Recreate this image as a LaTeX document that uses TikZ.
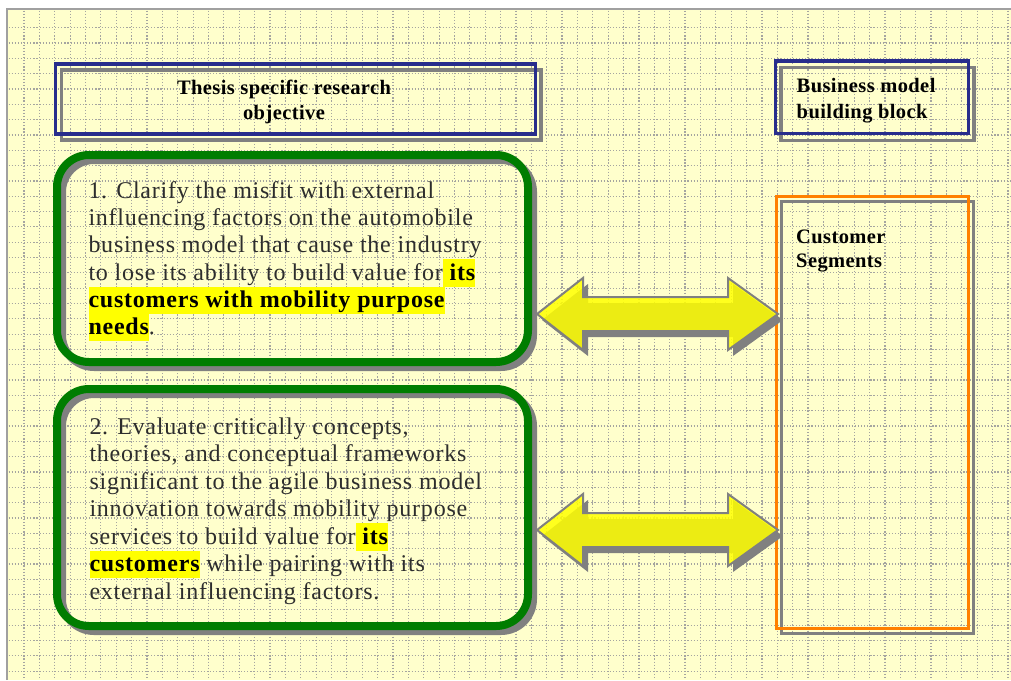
\documentclass[tikz,border=0pt]{standalone}
\usepackage{fontspec}
\setmainfont{Liberation Serif}
\newfontfamily\bodyfont[LetterSpace=3.2]{Liberation Serif}
\newfontfamily\headfont[LetterSpace=2]{Liberation Serif}
\usetikzlibrary{calc}

\definecolor{bgyellow}{RGB}{255,255,204}
\definecolor{gridgray}{RGB}{165,165,160}
\definecolor{framegray}{RGB}{160,160,160}
\definecolor{shadowgray}{RGB}{128,128,128}
\definecolor{boxgreen}{RGB}{0,125,0}
\definecolor{boxblue}{RGB}{40,45,140}
\definecolor{boxorange}{RGB}{255,128,0}
\definecolor{arrowyellow}{RGB}{255,255,0}
\definecolor{hlyellow}{RGB}{255,255,0}
\definecolor{bodygray}{RGB}{45,45,45}

% highlighted bold phrase
\newcommand\hl[1]{{\setlength{\fboxsep}{0pt}\colorbox{hlyellow}{\rule[-6.5pt]{0pt}{27.5pt}\color{black}\bfseries #1}}}

\pgfdeclarelayer{grid}
\pgfdeclarelayer{shadow}
\pgfsetlayers{grid,shadow,main}

\tikzset{
  gridline/.style={gridgray, line width=1.2pt, dash pattern=on 1.2pt off 1.9pt},
  greenbox/.style={draw=boxgreen, line width=8pt, rounded corners=32pt, outer sep=0pt, inner sep=0pt},
  greenshadow/.style={draw=shadowgray, line width=8pt, rounded corners=32pt},
  bluebox/.style={draw=boxblue, line width=3.3pt, outer sep=0pt, inner sep=0pt},
  orangebox/.style={draw=boxorange, line width=3.5pt, outer sep=0pt, inner sep=0pt},
  thinshadow/.style={draw=shadowgray, line width=3.3pt},
  bodytext/.style={font=\bodyfont\fontsize{24}{27.5}\selectfont, text=bodygray, anchor=base west, inner sep=0pt},
  headtext/.style={font=\headfont\bfseries\fontsize{20.5}{25}\selectfont, text=black, inner sep=0pt},
  arrowoutline/.style={insert path={(-120.5,0) -- (-74.5,-36) -- (-74.5,-17) -- (70.5,-17)
      -- (70.5,-36) -- (120.5,0) -- (70.5,36) -- (70.5,17) -- (-74.5,17) -- (-74.5,36) -- cycle}},
  dblarrow/.pic={
    \fill[shadowgray, shift={(5,6)}, arrowoutline];
    \filldraw[fill=arrowyellow, fill opacity=0.85, draw=shadowgray, line width=2pt, line join=miter, arrowoutline];
  }
}

\begin{document}
\begin{tikzpicture}[x=1pt, y=-1pt]
\useasboundingbox (0,0) rectangle (1011,680);

% dotted grid paper
\begin{pgfonlayer}{grid}
  \fill[white] (0,0) rectangle (1011,680);
  \fill[bgyellow] (7,9) rectangle (1011,680);
  \foreach \k in {0,...,64} \draw[gridline] ({24+15.374*\k},10.5) -- ({24+15.374*\k},680);
  \foreach \k in {0,...,42} \draw[gridline] (8.5,{27.7+15.32*\k}) -- (1011,{27.7+15.32*\k});
  \draw[framegray, line width=2.4pt] (7,680) -- (7,9.2) -- (1011,9.2);
\end{pgfonlayer}

% frames
\node[bluebox, minimum width=479.8pt, minimum height=70pt] (head1) at (295.6,99) {};
\node[bluebox, minimum width=193pt, minimum height=72.7pt] (head2) at (872,97.3) {};
\node[greenbox, minimum width=471pt, minimum height=207pt] (obj1) at (292.5,258.5) {};
\node[greenbox, minimum width=471pt, minimum height=237pt] (obj2) at (292.5,507.5) {};
\node[orangebox, minimum width=191.6pt, minimum height=432pt] (seg) at (872.5,412.7) {};

% offset shadows of the frames
\begin{pgfonlayer}{shadow}
  \draw[thinshadow] ([shift={(5.5,6)}]head1.north west) rectangle ([shift={(5.5,6)}]head1.south east);
  \draw[thinshadow] ([shift={(5.5,6.5)}]head2.north west) rectangle ([shift={(5.5,6.5)}]head2.south east);
  \draw[greenshadow] ([shift={(5,5)}]obj1.north west) rectangle ([shift={(5,5)}]obj1.south east);
  \draw[greenshadow] ([shift={(5,5)}]obj2.north west) rectangle ([shift={(5,5)}]obj2.south east);
  \draw[thinshadow, line width=3.5pt] ([shift={(5,5)}]seg.north west) rectangle ([shift={(5,5)}]seg.south east);
\end{pgfonlayer}

% double block arrows
\pic (arrow1) at (657.5,314) {dblarrow};
\pic (arrow2) at (657.5,530) {dblarrow};

% headings
\node[headtext, anchor=base] (h1a) at (284,94.3) {Thesis specific research};
\node[headtext, anchor=base] (h1b) at (284,119) {objective};
\node[headtext, anchor=base west] (h2a) at (796.5,92.5) {Business model};
\node[headtext, anchor=base west] (h2b) at (796.5,118) {building block};
\node[headtext, anchor=base west] (s1) at (796,243.3) {Customer};
\node[headtext, anchor=base west] (s2) at (796,267) {Segments};

% objective 1
\node[bodytext] (a1) at (88.3,198.3) {1. Clarify the misfit with external};
\node[bodytext] (a2) at (88.3,225.6) {influencing factors on the automobile};
\node[bodytext] (a3) at (88.3,252.9) {business model that cause the industry};
\node[bodytext] (a4) at (88.3,280.2) {to lose its ability to build value for\hl{ its}};
\node[bodytext] (a5) at (88.3,307.5) {\hl{customers with mobility purpose}};
\node[bodytext] (a6) at (88.3,334.8) {\hl{needs}.};

% objective 2
\node[bodytext] (b1) at (89.3,434.3) {2. Evaluate critically concepts,};
\node[bodytext] (b2) at (89.3,461.8) {theories, and conceptual frameworks};
\node[bodytext] (b3) at (89.3,489.3) {significant to the agile business model};
\node[bodytext] (b4) at (89.3,516.8) {innovation towards mobility purpose};
\node[bodytext] (b5) at (89.3,544.3) {services to build value for\hl{ its}};
\node[bodytext] (b6) at (89.3,571.8) {\hl{customers} while pairing with its};
\node[bodytext] (b7) at (89.3,599.3) {external influencing factors.};
\end{tikzpicture}
\end{document}
